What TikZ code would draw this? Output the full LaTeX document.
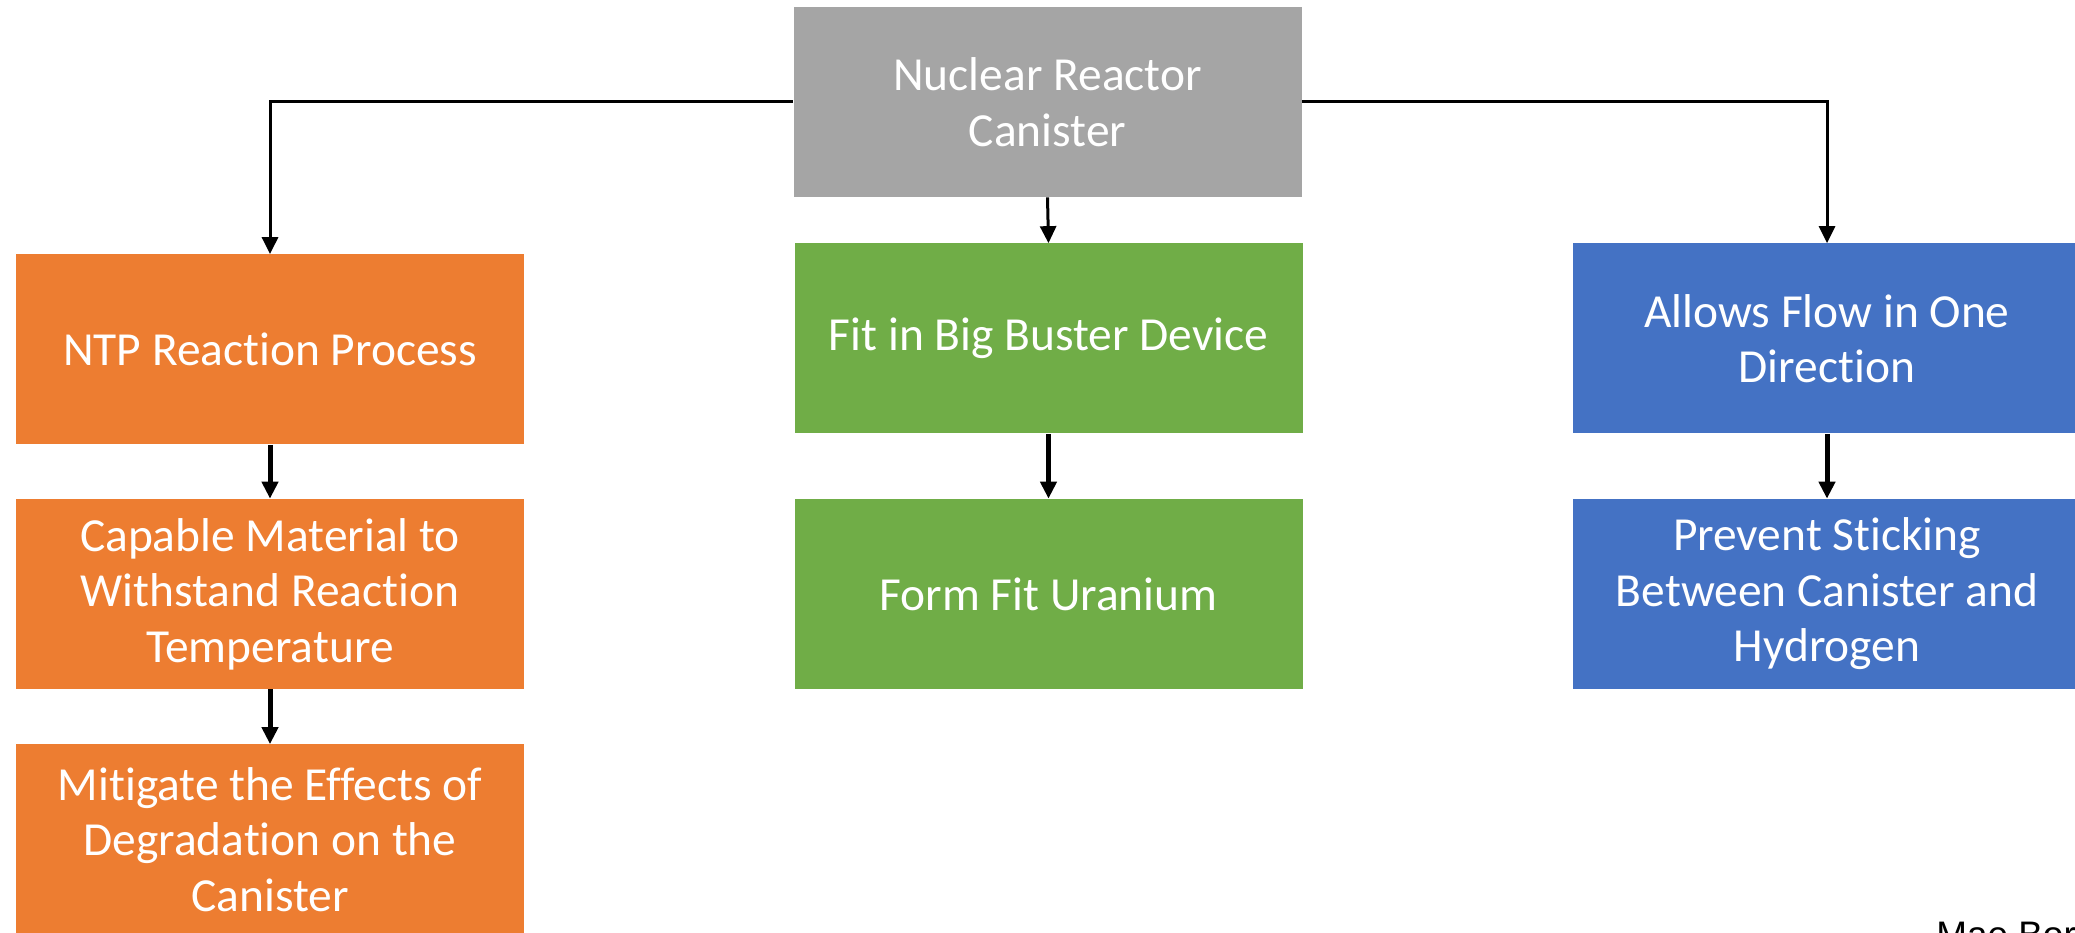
\documentclass[tikz,border=0pt]{standalone}
\usepackage{fontspec}
\setmainfont{Carlito}[Ligatures={NoCommon}]
\newfontfamily\maefont{Liberation Sans}
\usetikzlibrary{arrows.meta}
\definecolor{reactorgray}{HTML}{A5A5A5}
\definecolor{reactororange}{HTML}{ED7D31}
\definecolor{reactorgreen}{HTML}{70AD47}
\definecolor{reactorblue}{HTML}{4472C4}
\newcommand{\blkfont}{\fontsize{27pt}{31.6pt}\selectfont}
\tikzset{
  blk/.style={minimum width=10.16cm, minimum height=3.8cm, inner sep=0pt,
              align=center, text=white, font=\blkfont},
  graybox/.style={blk, fill=reactorgray},
  orangebox/.style={blk, fill=reactororange},
  greenbox/.style={blk, fill=reactorgreen},
  bluebox/.style={blk, fill=reactorblue},
  thinlink/.style={line width=0.06cm, -{Triangle[width=0.32cm, length=0.34cm]}},
  thicklink/.style={line width=0.1cm, -{Triangle[width=0.32cm, length=0.34cm]}}
}

\begin{document}
\begin{tikzpicture}
  \useasboundingbox (0,0) rectangle (41.5,-18.66);

  \node[graybox] (canister) at (20.95,-2.04) {Nuclear Reactor\\Canister};

  \node[orangebox] (ntp) at (5.40,-6.99) {NTP Reaction Process};
  \node[orangebox] (material) at (5.40,-11.88) {Capable Material to\\Withstand Reaction\\Temperature};
  \node[orangebox] (degrade) at (5.40,-16.79) {Mitigate the Effects of\\Degradation on the\\Canister};

  \node[greenbox] (buster) at (20.97,-6.77) {Fit in Big Buster Device};
  \node[greenbox] (uranium) at (20.97,-11.88) {Form Fit Uranium};

  \node[bluebox] (flow) at (36.54,-6.77) {Allows Flow in One\\Direction};
  \node[bluebox] (sticking) at (36.54,-11.88) {Prevent Sticking\\Between Canister and\\Hydrogen};

  \draw[thinlink] (canister.west) -| (ntp.north);
  \draw[thinlink] (canister.east) -| (flow.north);
  \draw[thinlink] (canister.south) -- (buster.north);

  \draw[thicklink] (ntp.south) -- (material.north);
  \draw[thicklink] (material.south) -- (degrade.north);
  \draw[thicklink] (buster.south) -- (uranium.north);
  \draw[thicklink] (flow.south) -- (sticking.north);

  \node[anchor=north west, inner sep=0pt, font=\maefont\fontsize{21pt}{25pt}\selectfont] (author) at (38.72,-18.44) {Mae Bor};
\end{tikzpicture}
\end{document}
